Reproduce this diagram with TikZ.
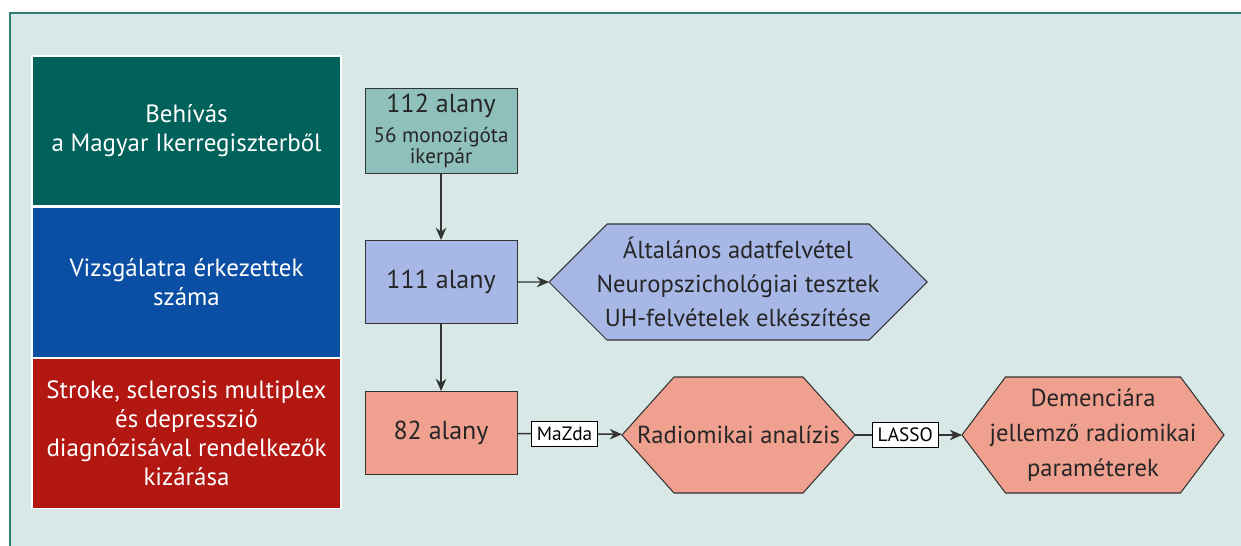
\documentclass[tikz,border=0pt]{standalone}
\usepackage{fontspec}
\setmainfont{PT Sans}
\usetikzlibrary{positioning,arrows.meta,backgrounds,calc}

\definecolor{keret}{HTML}{2E7D72}
\definecolor{hatter}{HTML}{D8E8E6}
\definecolor{zold}{HTML}{00625A}
\definecolor{kek}{HTML}{0A4FA3}
\definecolor{piros}{HTML}{B31712}
\definecolor{zoldv}{HTML}{8FC0BB}
\definecolor{kekv}{HTML}{A8B8E6}
\definecolor{pirosv}{HTML}{F0A08E}
\definecolor{vonal}{HTML}{333333}

\newcommand{\kisbetu}{\fontsize{12}{14}\selectfont}

\tikzset{
  sor/.style={minimum width=6.18cm,minimum height=3cm,draw=white,line width=0.6pt,
    text=white,align=center,font=\fontsize{14.2}{16.5}\selectfont},
  doboz/.style={minimum width=3.04cm,minimum height=1.66cm,draw=vonal,line width=0.6pt,
    text=black!85,align=center,font=\fontsize{14.8}{16}\selectfont},
  hatszog/.style={minimum height=2.32cm,outer sep=0pt,align=center,text=black!85,
    font=\fontsize{14}{19.5}\selectfont},
  nyil/.style={draw=vonal,line width=0.8pt,-{Stealth[length=7pt,width=6pt]}},
  cimke/.style={draw=black,fill=white,line width=0.5pt,inner sep=3pt,
    font=\fontsize{11}{12}\selectfont}
}

% hatszog a csomopont moge: #1 csomopont, #2 levagas, #3 szin
\newcommand{\hexhatter}[3]{%
  \filldraw[fill=#3,draw=vonal,line width=0.6pt] (#1.west)
    -- ($(#1.north west)+(#2,0)$) -- ($(#1.north east)-(#2,0)$) -- (#1.east)
    -- ($(#1.south east)-(#2,0)$) -- ($(#1.south west)+(#2,0)$) -- cycle;}

\begin{document}
\begin{tikzpicture}
    \useasboundingbox (0,0) rectangle (24.82,10.9);

    % bal oszlop
    \node[sor,fill=zold] (behivas) at (3.73,8.28) {Behívás\\a Magyar Ikerregiszterből};
    \node[sor,fill=kek,below=0pt of behivas] (vizsgalat) {Vizsgálatra érkezettek\\száma};
    \node[sor,fill=piros,below=0pt of vizsgalat] (kizaras)
        {Stroke, sclerosis multiplex\\és depresszió\\diagnózisával rendelkezők\\kizárása};

    % alanyok
    \node[doboz,fill=zoldv,right=0.46cm of behivas] (a112)
        {112 alany\\[1pt]{\kisbetu 56 monozigóta}\\[-4pt]{\kisbetu ikerpár}};
    \node[doboz,fill=kekv,right=0.46cm of vizsgalat] (a111) {111 alany};
    \node[doboz,fill=pirosv,right=0.46cm of kizaras] (a82) {82 alany};

    % hatszogek
    \node[hatszog,minimum width=7.56cm] (felvetel) at (14.76,5.26)
        {Általános adatfelvétel\\Neuropszichológiai tesztek\\UH-felvételek elkészítése};
    \node[hatszog,minimum width=4.66cm] (analizis) at (14.77,2.2) {Radiomikai analízis};
    \node[hatszog,minimum width=5.24cm,font=\fontsize{14}{20}\selectfont] (parameter) at (21.86,2.2)
        {Demenciára\\jellemző radiomikai\\paraméterek};

    \begin{scope}[on background layer]
        \filldraw[fill=hatter,draw=keret,line width=0.8pt] (0.2,-0.5) rectangle (25.3,10.64);
        \hexhatter{felvetel}{1.16cm}{kekv}
        \hexhatter{analizis}{1.04cm}{pirosv}
        \hexhatter{parameter}{0.87cm}{pirosv}
    \end{scope}

    \draw[nyil] (a112) -- (a111);
    \draw[nyil] (a111) -- (a82);
    \draw[nyil] (a111) -- (felvetel);
    \draw[nyil] (a82) -- node[cimke,pos=0.45] {MaZda} (analizis);
    \draw[nyil] (analizis) -- node[cimke,pos=0.47] {LASSO} (parameter);
\end{tikzpicture}
\end{document}
